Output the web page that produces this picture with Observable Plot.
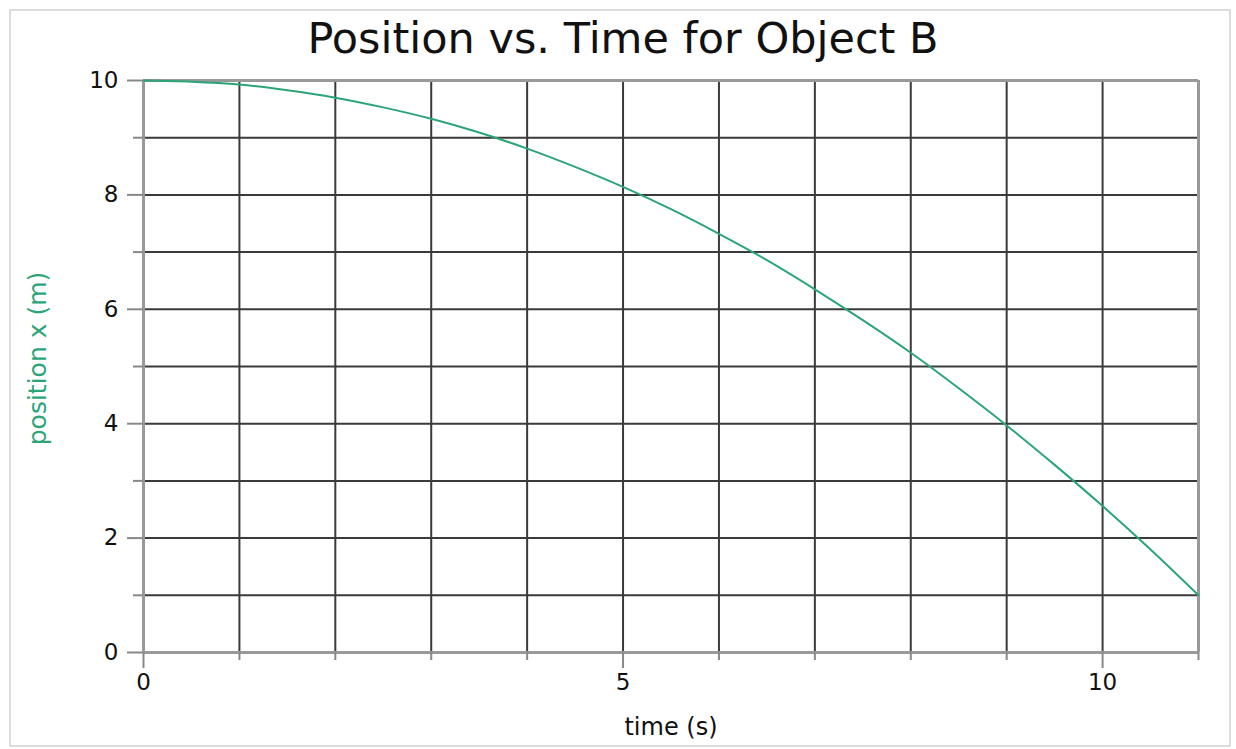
<!DOCTYPE html>
<html>
<head>
<meta charset="utf-8">
<script src="https://cdn.jsdelivr.net/npm/d3@7"></script>
<script src="https://cdn.jsdelivr.net/npm/@observablehq/plot@0.6"></script>
<style>
  html, body { margin: 0; padding: 0; background: #fff; }
  #wrap { position: relative; width: 1236px; height: 749px; overflow: hidden; font-family: "DejaVu Sans", sans-serif; }
  #frame { position: absolute; left: 9px; top: 9px; width: 1218px; height: 734px; border: 2px solid #dcdcdc; }
  #title { position: absolute; left: 5px; width: 1236px; top: 12px; text-align: center; font-size: 43px; color: #111; line-height: 52px; }
  #chart { position: absolute; left: 0; top: 60px; }
</style>
</head>
<body>
<div id="wrap">
  <div id="frame"></div>
  <div id="title">Position vs. Time for Object B</div>
  <div id="chart"></div>
</div>
<script>
// time (s) and position (m)
const time = [0, 0.5, 1, 1.5, 2, 2.5, 3, 3.5, 4, 4.5, 5, 5.5, 6, 6.5, 7, 7.5, 8, 8.5, 9, 9.5, 10, 10.5, 11];
const position = [10.00, 9.98, 9.93, 9.83, 9.70, 9.53, 9.33, 9.09, 8.81, 8.49, 8.14, 7.75, 7.32, 6.86, 6.35, 5.81, 5.24, 4.62, 3.97, 3.28, 2.56, 1.80, 1.00];

const xMajorTicks = [0, 5, 10];
const xMinorTicks = [1, 2, 3, 4, 6, 7, 8, 9, 11];
const yMajorTicks = [0, 2, 4, 6, 8, 10];
const yMinorTicks = [1, 3, 5, 7, 9];
const xGridInner = [1, 2, 3, 4, 5, 6, 7, 8, 9, 10];
const yGridInner = [1, 2, 3, 4, 5, 6, 7, 8, 9];
const xEdges = [0, 11];
const yEdges = [0, 10];
const xTitle = "time (s)";
const yTitle = "position x (m)";

const data = time.map((t, i) => ({t, x: position[i]}));

const green = "#2ba577";

const plot = Plot.plot({
  width: 1236,
  height: 689,
  marginTop: 20,
  marginBottom: 97,
  marginLeft: 143,
  marginRight: 38,
  style: {fontFamily: "DejaVu Sans, sans-serif", fontSize: "23px", background: "transparent", overflow: "visible"},
  x: {domain: [0, 11]},
  y: {domain: [0, 10]},
  marks: [
    Plot.ruleX(xGridInner, {stroke: "#3a3a3a", strokeWidth: 2}),
    Plot.ruleY(yGridInner, {stroke: "#3a3a3a", strokeWidth: 2}),
    Plot.ruleX(xEdges, {stroke: "#999", strokeWidth: 3}),
    Plot.ruleY(yEdges, {stroke: "#999", strokeWidth: 3}),
    Plot.axisX({ticks: xMajorTicks, tickSize: 16, tickPadding: 5, stroke: "#888", strokeWidth: 2, fill: "#111", label: null, fontSize: 23}),
    Plot.axisX({ticks: xMinorTicks, tickSize: 8, text: null, stroke: "#888", strokeWidth: 2, label: null}),
    Plot.axisY({ticks: yMajorTicks, tickSize: 16, tickPadding: 9, stroke: "#888", strokeWidth: 2, fill: "#111", label: null, fontSize: 23}),
    Plot.axisY({ticks: yMinorTicks, tickSize: 10, text: null, stroke: "#888", strokeWidth: 2, label: null}),
    Plot.line(data, {x: "t", y: "x", stroke: green, strokeWidth: 2, curve: "catmull-rom"}),
    Plot.text([xTitle], {frameAnchor: "bottom", dy: 75, lineAnchor: "middle", fontSize: 24, fill: "#111"}),
    Plot.text([yTitle], {frameAnchor: "left", textAnchor: "middle", dx: -106, dy: -8, rotate: -90, lineAnchor: "middle", fontSize: 25, fill: green})
  ]
});
document.getElementById("chart").appendChild(plot);
</script>
</body>
</html>
